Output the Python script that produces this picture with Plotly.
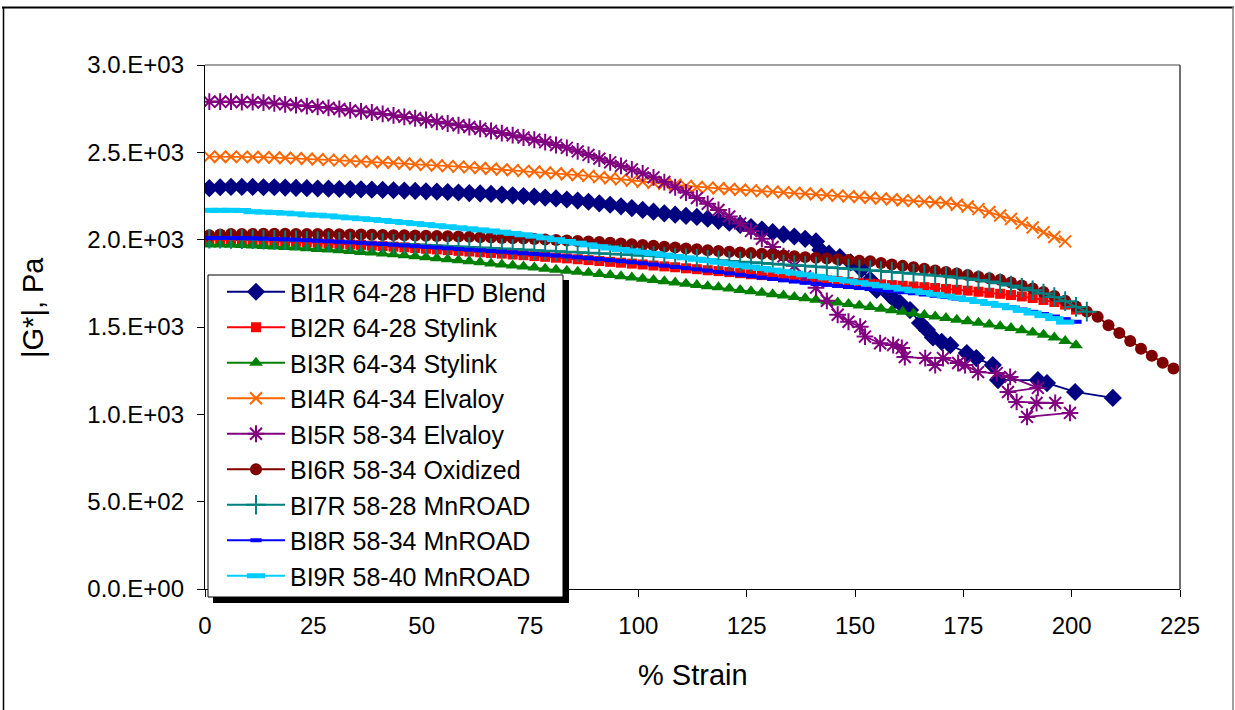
import plotly.graph_objects as go

# ---------------- data ----------------
strain = [1, 3.5, 6, 8.5, 11, 13.5, 16, 18.5, 21, 23.5, 26, 28.5, 31, 33.5, 36, 38.5, 41, 43.5, 46, 48.5,
          51, 53.5, 56, 58.5, 61, 63.5, 66, 68.5, 71, 73.5, 76, 78.5, 81, 83.5, 86, 88.5, 91, 93.5, 96, 98.5,
          101, 103.5, 106, 108.5, 111, 113.5, 116, 118.5, 121, 123.5, 126, 128.5, 131, 133.5, 136, 138.5,
          141, 143.5, 146, 148.5, 151, 153.5, 156, 158.5, 161, 163.5, 166, 168.5, 171, 173.5, 176, 178.5,
          181, 183.5, 186, 188.5, 191, 193.5, 196, 198.5, 201, 203.5, 206, 208.5, 211, 213.5, 216, 218.5,
          221, 223.5]

bi1r_y = [2295, 2300, 2302, 2302, 2302, 2300, 2300, 2298, 2296, 2295, 2293, 2292, 2290, 2289, 2288, 2286,
          2285, 2283, 2281, 2279, 2277, 2275, 2273, 2270, 2267, 2265, 2262, 2258, 2254, 2250, 2246, 2241,
          2236, 2230, 2224, 2217, 2208, 2200, 2191, 2181, 2170, 2160, 2151, 2143, 2136, 2130, 2120, 2108,
          2097, 2085, 2072, 2058, 2043, 2030, 2018, 2005]
bi1r_tail_x = [141, 142, 144, 146.5, 149, 151.5, 153.5, 155, 158, 159.2, 160.4, 162.7, 165, 166.6, 168,
               170, 172, 175.8, 178, 181.8, 183, 192.2, 194.3, 200.8, 209.5]
bi1r_tail_y = [1990, 1941, 1920, 1900, 1870, 1830, 1770, 1712, 1683, 1654, 1637, 1597, 1523, 1483, 1440,
               1415, 1396, 1351, 1322, 1282, 1196, 1196, 1179, 1128, 1094]

bi2r_y = [2000, 2000, 1999, 1998, 1996, 1994, 1992, 1990, 1988, 1985, 1982, 1979, 1976, 1973, 1970, 1966,
          1963, 1960, 1956, 1952, 1948, 1944, 1940, 1936, 1932, 1928, 1924, 1920, 1915, 1911, 1906, 1902,
          1897, 1893, 1888, 1883, 1878, 1873, 1868, 1863, 1858, 1852, 1847, 1842, 1836, 1831, 1825, 1820,
          1814, 1808, 1802, 1797, 1792, 1787, 1782, 1777, 1772, 1767, 1762, 1757, 1752, 1748, 1744, 1740,
          1736, 1732, 1728, 1723, 1718, 1713, 1708, 1702, 1696, 1690, 1683, 1675, 1666, 1655, 1643, 1628,
          1600]

bi3r_y = [1972, 1972, 1971, 1969, 1967, 1964, 1961, 1958, 1955, 1951, 1947, 1943, 1939, 1935, 1930, 1926,
          1921, 1916, 1911, 1905, 1900, 1894, 1888, 1882, 1876, 1870, 1864, 1858, 1852, 1846, 1840, 1834,
          1828, 1822, 1816, 1810, 1804, 1797, 1790, 1783, 1776, 1769, 1762, 1755, 1748, 1741, 1734, 1727,
          1720, 1712, 1704, 1696, 1688, 1680, 1672, 1664, 1656, 1648, 1640, 1632, 1623, 1614, 1605, 1596,
          1587, 1578, 1569, 1560, 1551, 1542, 1533, 1524, 1515, 1505, 1494, 1482, 1469, 1455, 1440, 1420,
          1395]

bi4r_y = [2475, 2475, 2475, 2474, 2473, 2472, 2470, 2468, 2466, 2463, 2460, 2457, 2454, 2451, 2448, 2446,
          2443, 2440, 2436, 2432, 2428, 2425, 2421, 2418, 2414, 2410, 2406, 2402, 2398, 2394, 2390, 2385,
          2380, 2375, 2370, 2365, 2358, 2352, 2345, 2338, 2332, 2326, 2320, 2314, 2308, 2302, 2298, 2294,
          2290, 2286, 2282, 2278, 2275, 2271, 2268, 2264, 2260, 2256, 2252, 2248, 2244, 2240, 2236, 2231,
          2226, 2222, 2218, 2214, 2210, 2200, 2190, 2175, 2158, 2138, 2118, 2095, 2070, 2042, 2015, 1990]

bi5r_y = [2790, 2790, 2790, 2788, 2787, 2785, 2780, 2775, 2770, 2765, 2760, 2755, 2748, 2740, 2735, 2728,
          2720, 2712, 2703, 2695, 2685, 2675, 2665, 2655, 2645, 2635, 2622, 2610, 2598, 2585, 2572, 2558,
          2542, 2526, 2505, 2485, 2464, 2443, 2422, 2402, 2380, 2357, 2330, 2300, 2270, 2238, 2205, 2170,
          2133, 2093, 2050, 2005, 1958, 1905, 1850, 1790, 1725, 1650, 1570]
bi5r_tail_x = [148.5, 151.2, 152.3, 155.8, 158.8, 160.8, 161.5, 166.2, 168.5, 170.3, 173.8, 175.4, 178.4,
               182.7, 185.8, 192.2, 185.3, 187.3, 196.2, 191.9, 189.7, 199.6]
bi5r_tail_y = [1530, 1502, 1445, 1407, 1397, 1380, 1328, 1322, 1282, 1322, 1294, 1282, 1242, 1236, 1214,
               1151, 1128, 1071, 1065, 1065, 985, 1008]

bi6r_y = [2025, 2030, 2032, 2033, 2033, 2034, 2034, 2034, 2033, 2033, 2032, 2032, 2031, 2030, 2029, 2028,
          2027, 2026, 2025, 2024, 2022, 2021, 2020, 2018, 2016, 2014, 2012, 2010, 2008, 2006, 2004, 2001,
          1998, 1995, 1992, 1989, 1986, 1982, 1978, 1974, 1970, 1965, 1960, 1955, 1950, 1945, 1940, 1935,
          1931, 1927, 1923, 1919, 1915, 1910, 1905, 1900, 1896, 1892, 1888, 1884, 1880, 1876, 1866, 1858,
          1850, 1842, 1833, 1824, 1815, 1806, 1797, 1788, 1779, 1770, 1755, 1738, 1720, 1700, 1678, 1650,
          1618, 1588, 1558, 1510, 1465, 1420, 1375, 1335, 1295, 1262]

bi7r_y = [2005, 2005, 2004, 2003, 2002, 2000, 1999, 1997, 1996, 1994, 1992, 1990, 1988, 1986, 1984, 1982,
          1980, 1977, 1975, 1972, 1970, 1967, 1964, 1961, 1958, 1955, 1952, 1949, 1946, 1943, 1940, 1937,
          1934, 1931, 1928, 1925, 1922, 1919, 1916, 1913, 1910, 1906, 1902, 1898, 1894, 1890, 1886, 1882,
          1878, 1874, 1870, 1866, 1862, 1858, 1854, 1850, 1846, 1842, 1838, 1834, 1830, 1825, 1820, 1815,
          1810, 1805, 1800, 1795, 1790, 1784, 1777, 1769, 1760, 1750, 1738, 1725, 1710, 1692, 1672, 1648,
          1615, 1588]

bi8r_y = [2010, 2010, 2010, 2009, 2008, 2006, 2004, 2002, 2000, 1997, 1994, 1991, 1988, 1985, 1982, 1978,
          1975, 1971, 1967, 1963, 1959, 1955, 1951, 1947, 1943, 1939, 1935, 1931, 1927, 1922, 1918, 1914,
          1909, 1904, 1899, 1894, 1889, 1883, 1877, 1871, 1865, 1858, 1851, 1844, 1837, 1830, 1823, 1815,
          1807, 1799, 1791, 1783, 1775, 1767, 1760, 1753, 1747, 1741, 1735, 1729, 1723, 1717, 1711, 1705,
          1699, 1693, 1686, 1679, 1671, 1663, 1655, 1646, 1636, 1625, 1613, 1600, 1587, 1574, 1560, 1545,
          1530]

bi9r_y = [2168, 2168, 2168, 2167, 2160, 2158, 2155, 2152, 2148, 2142, 2140, 2136, 2130, 2125, 2120, 2115,
          2110, 2104, 2098, 2092, 2086, 2080, 2074, 2068, 2062, 2056, 2050, 2043, 2036, 2028, 2020, 2010,
          2000, 1990, 1980, 1970, 1960, 1952, 1944, 1936, 1928, 1920, 1912, 1904, 1896, 1888, 1880, 1871,
          1862, 1853, 1844, 1835, 1826, 1817, 1808, 1799, 1790, 1781, 1772, 1763, 1754, 1745, 1736, 1727,
          1717, 1707, 1697, 1687, 1677, 1667, 1657, 1646, 1635, 1624, 1610, 1595, 1580, 1565, 1548, 1528]

series_names = ["BI1R 64-28 HFD Blend", "BI2R 64-28 Stylink", "BI3R 64-34 Stylink",
                "BI4R 64-34 Elvaloy", "BI5R 58-34 Elvaloy", "BI6R 58-34 Oxidized",
                "BI7R 58-28 MnROAD", "BI8R 58-34 MnROAD", "BI9R 58-40 MnROAD"]

x_ticks = [0, 25, 50, 75, 100, 125, 150, 175, 200, 225]
y_ticks = [0, 500, 1000, 1500, 2000, 2500, 3000]
y_tick_labels = ["0.0.E+00", "5.0.E+02", "1.0.E+03", "1.5.E+03", "2.0.E+03", "2.5.E+03", "3.0.E+03"]

# ---------------- figure ----------------
FONT = "Arial, Liberation Sans, sans-serif"
W, H = 1235, 710
L, R, T, B = 205, 1180, 65, 589


def px_x(p):
    return (p - L) / (R - L)


def px_y(p):
    return (B - p) / (B - T)


xs = [
    strain[:len(bi1r_y)] + bi1r_tail_x,
    strain[:len(bi2r_y)],
    strain[:len(bi3r_y)],
    strain[:len(bi4r_y)],
    strain[:len(bi5r_y)] + bi5r_tail_x,
    strain[:len(bi6r_y)],
    strain[:len(bi7r_y)],
    strain[:len(bi8r_y)],
    strain[:len(bi9r_y)],
]
ys = [bi1r_y + bi1r_tail_y, bi2r_y, bi3r_y, bi4r_y, bi5r_y + bi5r_tail_y, bi6r_y, bi7r_y, bi8r_y, bi9r_y]

styles = [
    dict(color="#000080", symbol="diamond", size=14, lw=0),
    dict(color="#FF0000", symbol="square", size=10, lw=0),
    dict(color="#008000", symbol="triangle-up", size=12, lw=0),
    dict(color="#FF6600", symbol="x-thin-open", size=12, lw=2),
    dict(color="#800080", symbol="asterisk-open", size=14, lw=2),
    dict(color="#800000", symbol="circle", size=12, lw=0),
    dict(color="#008080", symbol="cross-thin-open", size=14, lw=2),
    dict(color="#0000FF", symbol="line-ew-open", size=8, lw=4),
    dict(color="#00CCFF", symbol="line-ew-open", size=13, lw=5),
]

fig = go.Figure()
for name, x, y, st in zip(series_names, xs, ys, styles):
    fig.add_trace(go.Scatter(
        x=x, y=y, name=name, mode="lines+markers",
        line=dict(color=st["color"], width=1.8),
        marker=dict(symbol=st["symbol"], size=st["size"], color=st["color"],
                    line=dict(width=st["lw"], color=st["color"])),
    ))

shapes = [
    # plot-area top and right border
    dict(type="line", xref="paper", yref="paper", x0=0, x1=1, y0=1, y1=1,
         line=dict(color="#808080", width=1.5)),
    dict(type="line", xref="paper", yref="paper", x0=1, x1=1, y0=0, y1=1,
         line=dict(color="#404040", width=1.5)),
    # legend shadow and box
    dict(type="rect", xref="paper", yref="paper", layer="above",
         x0=px_x(213), x1=px_x(569), y0=px_y(603), y1=px_y(280),
         fillcolor="black", line=dict(width=0)),
    dict(type="rect", xref="paper", yref="paper", layer="above",
         x0=px_x(208), x1=px_x(563), y0=px_y(597), y1=px_y(275),
         fillcolor="white", line=dict(color="black", width=1)),
    # outer chart frame
    dict(type="line", xref="paper", yref="paper", x0=px_x(2), x1=px_x(1234), y0=px_y(7.5), y1=px_y(7.5),
         line=dict(color="black", width=2)),
    dict(type="line", xref="paper", yref="paper", x0=px_x(3.5), x1=px_x(3.5), y0=px_y(7), y1=px_y(715),
         line=dict(color="black", width=1.5)),
    dict(type="line", xref="paper", yref="paper", x0=px_x(1233), x1=px_x(1233), y0=px_y(7), y1=px_y(715),
         line=dict(color="#808080", width=1.5)),
]

fig.update_layout(
    width=W, height=H, autosize=False,
    margin=dict(l=L, r=W - R, t=T, b=H - B, pad=0),
    paper_bgcolor="white", plot_bgcolor="white",
    font=dict(family=FONT, size=24, color="black"),
    showlegend=True,
    legend=dict(x=px_x(222), y=px_y(269), xanchor="left", yanchor="top",
                bgcolor="rgba(0,0,0,0)", borderwidth=0,
                font=dict(family=FONT, size=25, color="black"),
                itemwidth=58, tracegroupgap=0),
    xaxis=dict(range=[0, 225], tickvals=x_ticks, ticktext=[str(v) for v in x_ticks],
               showgrid=False, zeroline=False, showline=True, linecolor="black", linewidth=1.3,
               ticks="outside", ticklen=7, tickcolor="black", tickwidth=1.3,
               tickfont=dict(family=FONT, size=24), ticklabelstandoff=8),
    yaxis=dict(range=[0, 3000], tickvals=y_ticks, ticktext=y_tick_labels,
               showgrid=False, zeroline=False, showline=True, linecolor="black", linewidth=1.3,
               ticks="outside", ticklen=7, tickcolor="black", tickwidth=1.3,
               tickfont=dict(family=FONT, size=24), ticklabelstandoff=8),
    shapes=shapes,
    annotations=[
        dict(text="% Strain", xref="paper", yref="paper", x=0.5, y=px_y(675),
             xanchor="center", yanchor="middle", showarrow=False,
             font=dict(family=FONT, size=29, color="black")),
        dict(text="|G*|, Pa", xref="paper", yref="paper", x=px_x(33), y=px_y(308),
             xanchor="center", yanchor="middle", textangle=-90, showarrow=False,
             font=dict(family=FONT, size=29, color="black")),
    ],
)

fig.write_html("out.html")
